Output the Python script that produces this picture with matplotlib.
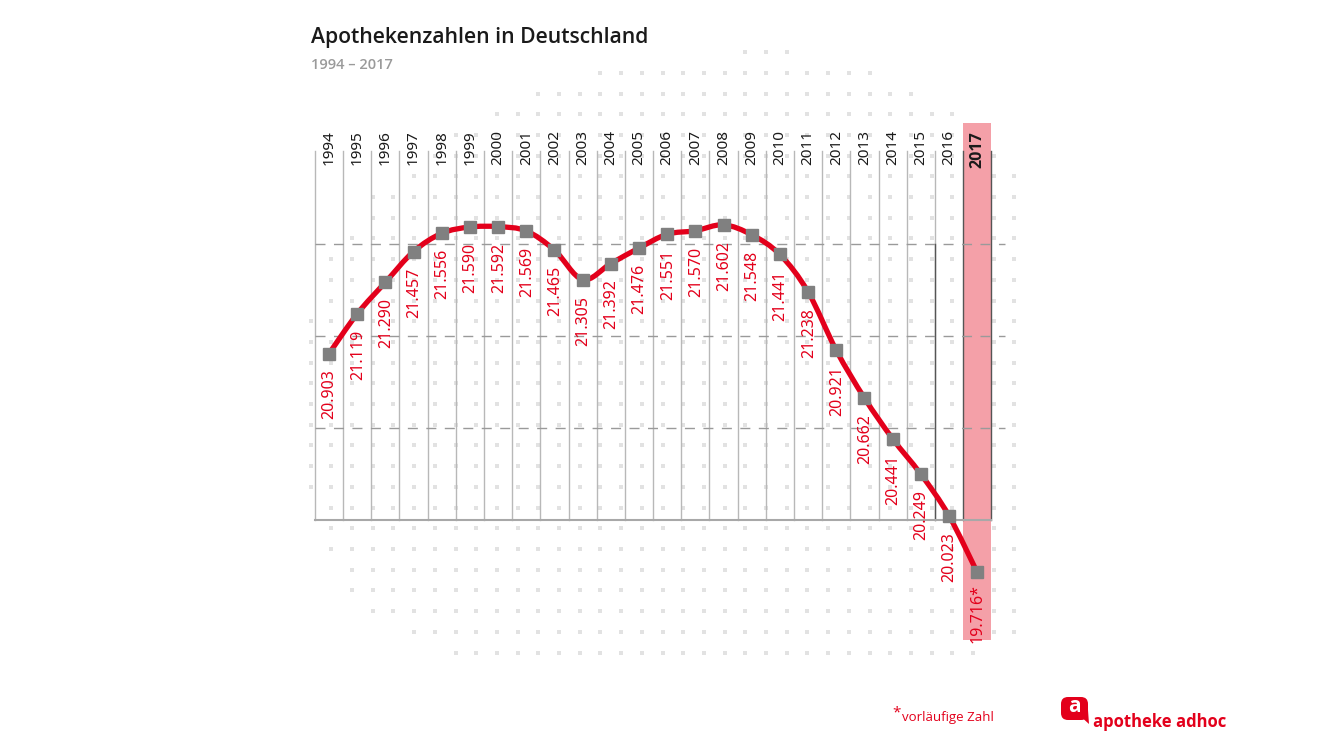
import numpy as np
import matplotlib.pyplot as plt
from matplotlib.path import Path
from matplotlib.patches import PathPatch, Rectangle, FancyBboxPatch, Polygon

# Apothekenzahlen in Deutschland, 1994 - 2017 (2017 vorlaeufig)
years = list(range(1994, 2018))
apotheken = [20903, 21119, 21290, 21457, 21556, 21590, 21592, 21569, 21465, 21305,
             21392, 21476, 21551, 21570, 21602, 21548, 21441, 21238, 20921, 20662,
             20441, 20249, 20023, 19716]
grid_values = [20500, 21000, 21500]
base_value = 20000
top_value = 22000

RED = '#e3001b'
GREY_MARK = '#808080'
PINK = '#f4a0a8'
NUM_FONT = ['Noto Sans', 'DejaVu Sans']
plt.rcParams['font.family'] = ['Open Sans', 'DejaVu Sans']

fig = plt.figure(figsize=(13.33, 7.5), dpi=100)

# background layer in pixel coords (dot pattern, logo)
bg = fig.add_axes([0, 0, 1, 1])
bg.set_xlim(0, 1333)
bg.set_ylim(750, 0)
bg.axis('off')

# dotted blob behind the chart
gx = 331.3 + 20.7 * np.arange(-2, 34)
gy = 528.3 + 20.7 * np.arange(-23, 7)
GX, GY = np.meshgrid(gx, gy)
cx, cy = 776, 352
dx = GX - cx
dy = GY - cy
a = np.where(dx < 0, 471, 300)
top = (dx / a) ** 2 + (dy / 301) ** 2
bottom = (dx / a) ** 4 + (dy / 320) ** 4
inside = np.where(dy < 0, top, bottom) <= 1
inside &= (GX > 300) & (GX < 1020)
bg.scatter(GX[inside], GY[inside], marker='s', s=5, color='#e2e2e2', lw=0, zorder=0)

# main chart axes, x in years, y in number of pharmacies
ax = fig.add_axes([300 / 1333, 1 - 660 / 750, 720 / 1333, 550 / 750])
ax.set_xlim(1992.971, 2018.52)
ax.set_ylim(19240.2, 22225.2)
ax.axis('off')

# highlighted last year
ax.add_patch(Rectangle((2016.5, 19350), 1, 2805, color=PINK, lw=0, zorder=1))

# column separators
for y in years:
    b = y - 0.5
    col = '#555555' if y >= 2017 else '#b8b8b8'
    ax.plot([b, b], [base_value, top_value], color=col, lw=1, zorder=2)
ax.plot([2017.5, 2017.5], [base_value, top_value], color='#555555', lw=1, zorder=2)
ax.plot([2015.5, 2015.5], [base_value, grid_values[-1]], color='#555555', lw=1, zorder=2)

# grid
for g in grid_values:
    ax.plot([years[0] - 0.5, 2018.0], [g, g], color='#9a9a9a', lw=1,
            dashes=(7.2, 6.1), zorder=2)
ax.plot([years[0] - 0.5, years[-1] + 0.5], [base_value, base_value],
        color='#a8a8a8', lw=1.5, zorder=2)

# smooth red line (Catmull-Rom as cubic bezier)
P = np.column_stack([years, apotheken]).astype(float)
verts = [P[0]]
codes = [Path.MOVETO]
n = len(P)
for i in range(n - 1):
    p0 = P[max(i - 1, 0)]
    p1 = P[i]
    p2 = P[i + 1]
    p3 = P[min(i + 2, n - 1)]
    c1 = p1 + (p2 - p0) / 6
    c2 = p2 - (p3 - p1) / 6
    verts += [c1, c2, p2]
    codes += [Path.CURVE4] * 3
ax.add_patch(PathPatch(Path(verts, codes), fill=False, edgecolor=RED, lw=3.8,
                       capstyle='round', joinstyle='round', zorder=4))
ax.plot(years, apotheken, ls='none', marker='s', ms=8.5, color=GREY_MARK, zorder=5)

# value labels
for y, v in zip(years, apotheken):
    s = f"{v:,}".replace(",", ".")
    if y == years[-1]:
        s += "*"
    ax.annotate(s, (y, v), xytext=(0.5, -29.5), textcoords='offset points',
                rotation=90, ha='center', va='center', fontsize=11.5, color=RED,
                family=NUM_FONT, zorder=6)

# year labels
for y in years[:-1]:
    ax.text(y, 21926, str(y), rotation=90, ha='center', va='bottom', fontsize=11,
            color='#1a1a1a', family=NUM_FONT, zorder=6)
ax.text(years[-1], 21910, str(years[-1]), rotation=90, ha='center', va='bottom',
        fontsize=11.5, fontweight='bold', color='#1a1a1a',
        family=['Open Sans', 'DejaVu Sans'], zorder=6)

# titles
fig.text(311 / 1333, 1 - 37 / 750, "Apothekenzahlen in Deutschland", fontsize=15.2,
         fontweight='semibold', color='#1a1a1a', va='center', ha='left')
fig.text(311 / 1333, 1 - 65 / 750, "1994 \u2013 2017", fontsize=10.5, fontweight='semibold',
         color='#9a9a9a', va='center', ha='left')

# footnote
bg.text(892, 713, "*", fontsize=11, color=RED, ha='left', va='center')
bg.text(902, 718, "vorläufige Zahl", fontsize=9.5, color=RED, ha='left', va='center')

# logo
bg.add_patch(FancyBboxPatch((1064, 700), 21, 17, boxstyle='round,pad=3,rounding_size=7',
                            color=RED, lw=0))
bg.add_patch(Polygon([[1078, 714], [1089, 724], [1088, 710]], closed=True, color=RED, lw=0))
bg.text(1074, 707, "a", fontsize=15, fontweight='bold', color='white', ha='center', va='center')
bg.text(1093, 722, "apotheke adhoc", fontsize=12, fontweight='bold', color=RED,
        ha='left', va='center')

fig.savefig('out.png', dpi=100)
